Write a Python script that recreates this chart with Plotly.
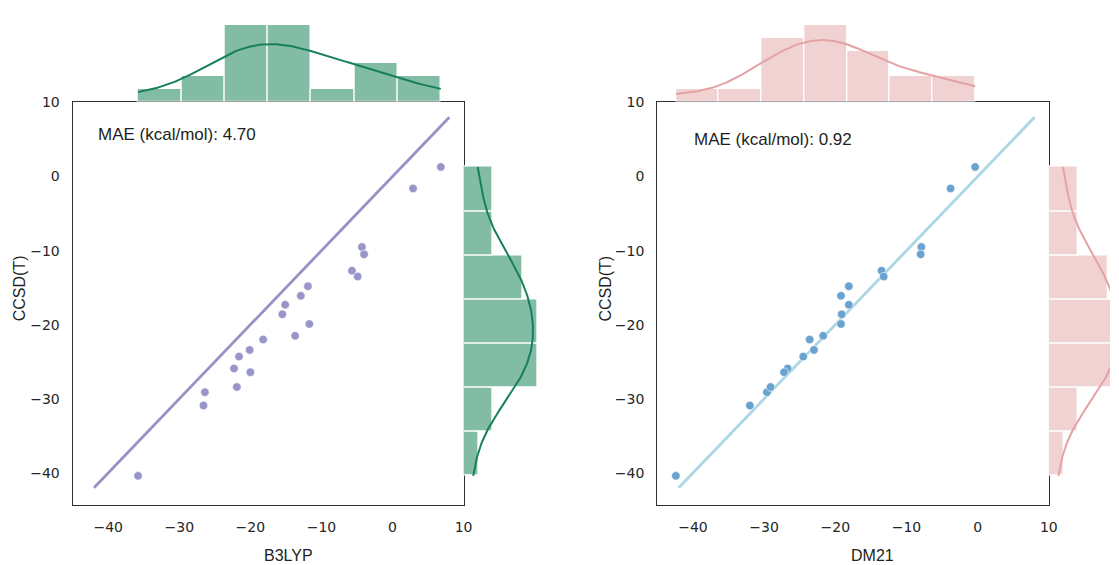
import numpy as np
import plotly.graph_objects as go

# ---------------- data ----------------
ccsdt = [-40.4, -30.9, -29.1, -28.4, -25.9, -26.4, -24.3, -23.4, -22.0, -18.6, -17.3,
         -21.5, -16.1, -19.9, -14.8, -12.7, -13.5, -9.5, -10.5, -1.6, 1.3]
b3lyp = [-35.8, -26.6, -26.4, -21.9, -22.3, -20.0, -21.6, -20.1, -18.2, -15.5, -15.1,
         -13.7, -12.9, -11.7, -11.9, -5.7, -4.9, -4.3, -4.0, 2.9, 6.8]
dm21 = [-42.4, -32.0, -29.6, -29.1, -26.7, -27.2, -24.5, -23.0, -23.6, -19.1, -18.1,
        -21.7, -19.2, -19.2, -18.1, -13.5, -13.2, -7.9, -8.0, -3.8, -0.35]
diag = [-42, 8]
mae_labels = ["MAE (kcal/mol): 4.70", "MAE (kcal/mol): 0.92"]
method_names = ["B3LYP", "DM21"]
tick_vals = [-40, -30, -20, -10, 0, 10]
N_BINS = 7

W, H = 1119, 565


def px(x):
    return x / W


def py(y):
    return 1 - y / H


def hist(v):
    counts, edges = np.histogram(v, bins=N_BINS)
    centers = (edges[:-1] + edges[1:]) / 2
    return centers, counts, edges[1] - edges[0]


def kde(v):
    v = np.asarray(v, float)
    n = len(v)
    bw = np.std(v, ddof=1) * n ** (-1 / 5)
    grid = np.linspace(v.min(), v.max(), 200)
    dens = np.exp(-0.5 * ((grid[:, None] - v[None, :]) / bw) ** 2).sum(1) / (n * bw * np.sqrt(2 * np.pi))
    binw = (v.max() - v.min()) / N_BINS
    return grid, dens * n * binw


fig = go.Figure()

panels = [
    dict(x=b3lyp, left=73.3, right=467.3, pt="#9896c9", line="#9b90c6",
         bar="#82bca4", kde="#17805a", mae_x=96.5, mae_y=129, lab_x=291, ylab_x=20, marg_w=81.6),
    dict(x=dm21, left=662.7, right=1057.3, pt="#6aa3cf", line="#abd6e3",
         bar="#f1d2d2", kde="#e3a2a4", mae_x=698, mae_y=134, lab_x=880, ylab_x=610, marg_w=W - 1057.3),
]

TOP, BOT = 95.7, 504.0
XR = [-45, 10]
YR = [-44.3, 10.13]
MARG = 81.6
TOP_CNT_PX = 12.9
RIGHT_CNT_PX = 14.86

for i, p in enumerate(panels):
    k = 3 * i
    xm, ym = f"x{k + 1 if k else ''}", f"y{k + 1 if k else ''}"
    xt, yt = f"x{k + 2}", f"y{k + 2}"
    xr, yr = f"x{k + 3}", f"y{k + 3}"

    # diagonal line
    fig.add_trace(go.Scatter(x=diag, y=diag, mode="lines", line=dict(color=p["line"], width=2.8),
                             xaxis=xm, yaxis=ym, showlegend=False, hoverinfo="skip"))
    # scatter
    fig.add_trace(go.Scatter(x=p["x"], y=ccsdt, mode="markers",
                             marker=dict(color=p["pt"], size=8.5, line=dict(color="white", width=0.6)),
                             xaxis=xm, yaxis=ym, showlegend=False))
    # top histogram
    c, n, bw = hist(p["x"])
    fig.add_trace(go.Bar(x=c, y=n, width=bw, marker=dict(color=p["bar"], line=dict(color="white", width=1.2)),
                         xaxis=xt, yaxis=yt, showlegend=False))
    g, d = kde(p["x"])
    fig.add_trace(go.Scatter(x=g, y=d, mode="lines", line=dict(color=p["kde"], width=2),
                             xaxis=xt, yaxis=yt, showlegend=False, hoverinfo="skip"))
    # right histogram
    c, n, bw = hist(ccsdt)
    fig.add_trace(go.Bar(y=c, x=n, width=bw, orientation="h",
                         marker=dict(color=p["bar"], line=dict(color="white", width=1.2)),
                         xaxis=xr, yaxis=yr, showlegend=False))
    g, d = kde(ccsdt)
    fig.add_trace(go.Scatter(x=d, y=g, mode="lines", line=dict(color=p["kde"], width=2),
                             xaxis=xr, yaxis=yr, showlegend=False, hoverinfo="skip"))

    dom_x = [px(p["left"]), px(p["right"])]
    dom_y = [py(BOT), py(TOP)]
    hidden = dict(visible=False, showgrid=False, zeroline=False)
    main_ax = dict(showline=True, mirror=True, linecolor="#2e2e2e", linewidth=1.3, showgrid=False,
                   zeroline=False, ticks="outside", ticklen=9, tickcolor="rgba(0,0,0,0)",
                   tickvals=tick_vals, tickfont=dict(family="DejaVu Sans", size=14, color="#262626"))
    xname = "xaxis" + (str(k + 1) if k else "")
    yname = "yaxis" + (str(k + 1) if k else "")
    fig.update_layout(**{
        xname: dict(domain=dom_x, range=XR, anchor=ym, **main_ax),
        yname: dict(domain=dom_y, range=YR, anchor=xm, **main_ax),
        f"xaxis{k + 2}": dict(domain=dom_x, range=XR, anchor=yt, **hidden),
        f"yaxis{k + 2}": dict(domain=[py(TOP), py(TOP - MARG)], range=[0, MARG / TOP_CNT_PX], anchor=xt, **hidden),
        f"xaxis{k + 3}": dict(domain=[px(p["right"]), min(1, px(p["right"] + p["marg_w"]))],
                               range=[0, p["marg_w"] / RIGHT_CNT_PX], anchor=yr, **hidden),
        f"yaxis{k + 3}": dict(domain=dom_y, range=YR, anchor=xr, **hidden),
    })

    fig.add_annotation(text=mae_labels[i], x=px(p["mae_x"]), y=py(p["mae_y"]), xref="paper", yref="paper",
                       xanchor="left", yanchor="middle", showarrow=False,
                       font=dict(family="Liberation Sans, Arial", size=17, color="#231f20"))
    fig.add_annotation(text=method_names[i], x=px(p["lab_x"]), y=py(555), xref="paper", yref="paper",
                       xanchor="center", yanchor="middle", showarrow=False,
                       font=dict(family="Liberation Sans, Arial", size=16, color="#231f20"))
    fig.add_annotation(text="CCSD(T)", x=px(p["ylab_x"]), y=py(285), xref="paper", yref="paper",
                       xanchor="center", yanchor="middle", showarrow=False, textangle=-90,
                       font=dict(family="Liberation Sans, Arial", size=16, color="#231f20"))

fig.update_layout(width=W, height=H, margin=dict(l=0, r=0, t=0, b=0),
                  paper_bgcolor="white", plot_bgcolor="rgba(0,0,0,0)", bargap=0, showlegend=False)

post = ("var d=document.getElementById('{plot_id}');"
        "d.style.position='fixed';d.style.left='0px';d.style.top='0px';"
        "document.documentElement.style.margin='0';document.documentElement.style.padding='0';"
        "document.body.style.margin='0';document.body.style.padding='0';"
        "document.documentElement.style.overflow='hidden';document.body.style.overflow='hidden';")

fig.write_html("out.html", config={"displayModeBar": False}, post_script=post)
